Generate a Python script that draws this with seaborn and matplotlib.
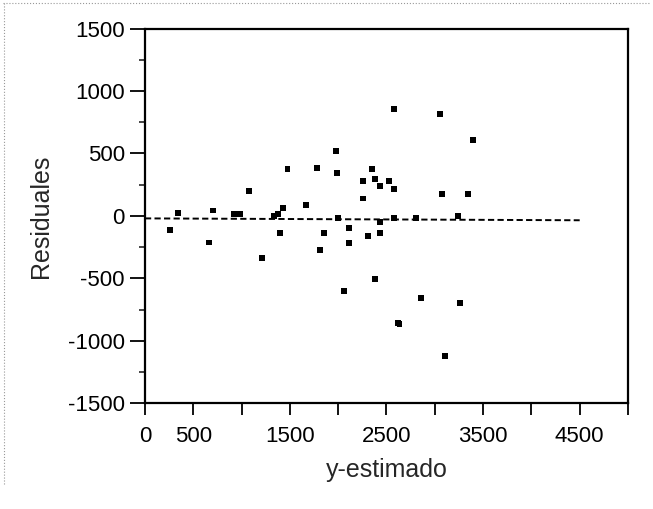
# Residual plot: residuales vs y-estimado
import pandas as pd
import matplotlib.pyplot as plt
import seaborn as sns
from matplotlib.ticker import MultipleLocator
from matplotlib.lines import Line2D

## data
y_estimado = [259, 338, 659, 707, 918, 983, 1080, 1208, 1332, 1373, 1401, 1432,
              1475, 1670, 1780, 1815, 1856, 1982, 1988, 1995, 2064, 2108, 2108,
              2253, 2253, 2305, 2350, 2381, 2382, 2433, 2433, 2433, 2529, 2579,
              2579, 2581, 2615, 2635, 2805, 2857, 3054, 3075, 3107, 3243, 3261,
              3347, 3393]
residuales = [-114, 23, -213, 43, 18, 18, 202, -337, -4, 15, -136, 64,
              375, 84, 381, -273, -136, 518, 340, -20, -598, -100, -216,
              279, 139, -158, 375, 298, -503, 238, -139, -52, 279, 855,
              216, -20, -855, -862, -20, -660, 816, 175, -1122, -4, -699,
              175, 605]
# dashed trend line endpoints
trend_x = [0, 4500]
trend_y = [-20, -35]

x_ticks = [0, 500, 1000, 1500, 2000, 2500, 3000, 3500, 4000, 4500, 5000]
x_labels = ["0", "500", "", "1500", "", "2500", "", "3500", "", "4500", ""]
y_ticks = [-1500, -1000, -500, 0, 500, 1000, 1500]

df = pd.DataFrame({"y-estimado": y_estimado, "Residuales": residuales})
trend = pd.DataFrame({"x": trend_x, "y": trend_y})

sns.set_style("ticks")
plt.rcParams['font.family'] = ['Liberation Sans', 'DejaVu Sans']
plt.rcParams['axes.unicode_minus'] = False

fig = plt.figure(figsize=(6.53, 5.09), dpi=100)
ax = fig.add_axes([0.222, 0.2077, 0.7397, 0.7363])

sns.lineplot(data=trend, x="x", y="y", ax=ax, color="black", lw=1.4,
             linestyle=(0, (3.2, 1.7)))
sns.scatterplot(data=df, x="y-estimado", y="Residuales", ax=ax, color="black",
                marker="s", s=18, edgecolor="none")

ax.set_xlim(0, 5000)
ax.set_ylim(-1500, 1500)
ax.set_xticks(x_ticks)
ax.set_xticklabels(x_labels)
ax.set_yticks(y_ticks)
ax.yaxis.set_minor_locator(MultipleLocator(250))
ax.tick_params(axis="x", which="major", direction="out", length=8.5, width=1.3,
               labelsize=16, colors="black", pad=8)
ax.tick_params(axis="y", which="major", direction="out", length=11, width=1.3,
               labelsize=16, colors="black", pad=3.5)
ax.tick_params(axis="y", which="minor", direction="out", length=4, width=1.2)
for s in ax.spines.values():
    s.set_linewidth(1.6)
    s.set_color("black")
ax.set_xlabel("y-estimado", fontsize=18, labelpad=8)
ax.set_ylabel("Residuales", fontsize=18, labelpad=11)

# faint dotted border of the scanned frame
fig.add_artist(Line2D([0.005, 0.995], [0.994, 0.994], color="#999999", lw=0.8,
                      linestyle=":", transform=fig.transFigure))
fig.add_artist(Line2D([0.006, 0.006], [0.05, 0.994], color="#999999", lw=0.8,
                      linestyle=":", transform=fig.transFigure))

fig.savefig("out.png", dpi=100)
